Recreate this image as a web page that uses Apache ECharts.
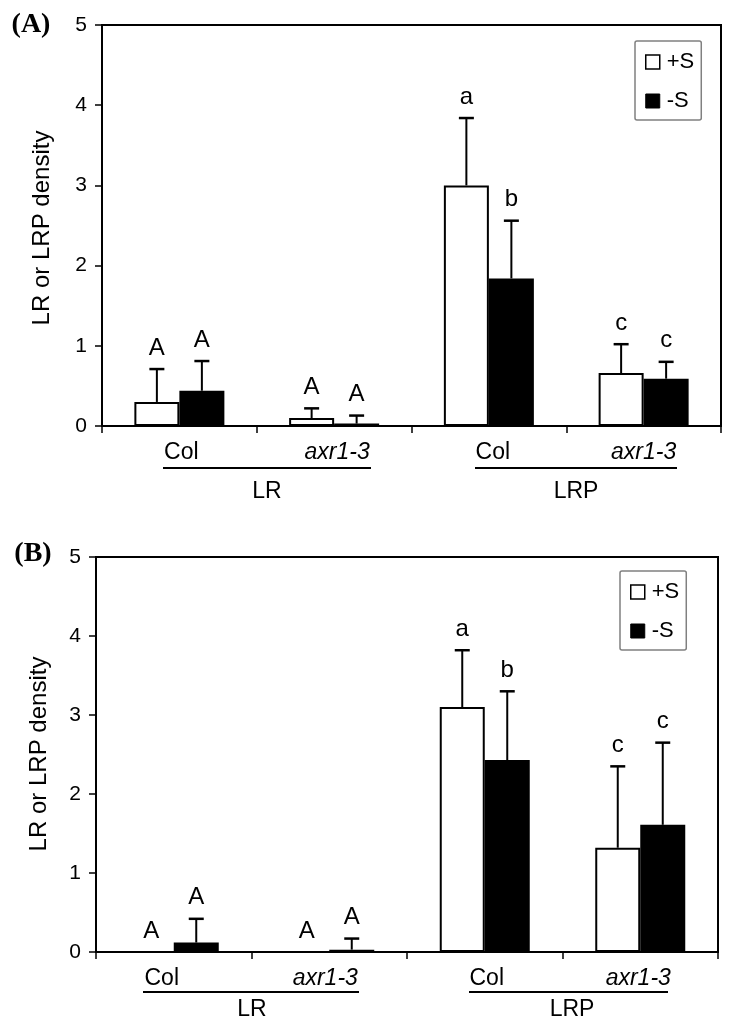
<!DOCTYPE html>
<html>
<head>
<meta charset="utf-8">
<script src="https://cdn.jsdelivr.net/npm/echarts@6/dist/echarts.min.js"></script>
<style>html,body{margin:0;padding:0;background:#fff;}#c{width:734px;height:1028px;}</style>
</head>
<body>
<div id="c"></div>
<script>
// ---- data ----
const categories = ['Col', 'axr1-3', 'Col', 'axr1-3'];
const groups = ['LR', 'LRP'];
const seriesNames = ['+S', '-S'];
const yTicks = [0, 1, 2, 3, 4, 5];

const A_plus = [0.30, 0.10, 3.00, 0.66];
const A_plusErr = [0.41, 0.12, 0.84, 0.36];
const A_minus = [0.44, 0.03, 1.84, 0.59];
const A_minusErr = [0.37, 0.10, 0.72, 0.21];

const B_plus = [0, 0, 3.10, 1.32];
const B_plusErr = [0, 0, 0.72, 1.03];
const B_minus = [0.12, 0.03, 2.43, 1.61];
const B_minusErr = [0.30, 0.14, 0.87, 1.04];

const letters_plus = ['A', 'A', 'a', 'c'];
const letters_minus = ['A', 'A', 'b', 'c'];

// ---- chart ----
const FONT = '"Liberation Sans", Arial, Helvetica, sans-serif';
const BW = 45;
const chart = echarts.init(document.getElementById('c'), null, {renderer: 'canvas'});

function barSeries(name, vals, idx, white) {
  return {
    name: name, type: 'bar', xAxisIndex: idx, yAxisIndex: idx,
    data: vals, barWidth: BW, barGap: '0%',
    itemStyle: {color: white ? '#ffffff' : '#000000', borderColor: '#000', borderWidth: 2},
    emphasis: {disabled: true}, silent: true, z: 2
  };
}
function errSeries(vals, errs, letters, idx, side) {
  return {
    type: 'custom', xAxisIndex: idx, yAxisIndex: idx, z: 5, silent: true,
    data: vals.map((v, i) => [i, v, errs[i]]),
    renderItem: function (params, api) {
      const i = api.value(0), v = api.value(1), e = api.value(2);
      const base = api.coord([i, v]);
      const top = api.coord([i, v + e]);
      const x = base[0] + side * BW / 2;
      const children = [];
      if (e > 0) {
        children.push({type: 'line', shape: {x1: x, y1: base[1], x2: x, y2: top[1]}, style: {stroke: '#000', lineWidth: 2}});
        children.push({type: 'line', shape: {x1: x - 7.5, y1: top[1], x2: x + 7.5, y2: top[1]}, style: {stroke: '#000', lineWidth: 2.5}});
      }
      children.push({type: 'text', x: x, y: top[1] - 9, style: {text: letters[params.dataIndex], fontSize: 24, fontFamily: FONT, fill: '#000', align: 'center', verticalAlign: 'bottom'}});
      return {type: 'group', children: children};
    }
  };
}
function xAxis(idx, shifts) {
  return {
    type: 'category', gridIndex: idx,
    data: categories.map((c, i) => ({value: c, textStyle: {padding: shifts[i]}})),
    axisLine: {lineStyle: {color: '#000', width: 2}},
    axisTick: {show: true, length: 7, lineStyle: {color: '#000', width: 1.5}},
    axisLabel: {
      color: '#000', fontSize: 23, fontFamily: FONT, margin: 15,
      formatter: v => v === 'Col' ? v : '{it|' + v + '}',
      rich: {it: {fontStyle: 'italic', fontSize: 23, fontFamily: FONT, color: '#000'}}
    }
  };
}
function yAxis(idx) {
  return {
    type: 'value', gridIndex: idx, min: yTicks[0], max: yTicks[yTicks.length - 1], interval: 1,
    axisLine: {show: true, lineStyle: {color: '#000', width: 2}},
    axisTick: {show: true, length: 7, lineStyle: {color: '#000', width: 1.5}},
    splitLine: {show: false},
    axisLabel: {color: '#000', fontSize: 21, fontFamily: FONT, margin: 15}
  };
}
function legend(left, top) {
  return {
    left: left, top: top, orient: 'vertical', icon: 'rect', itemWidth: 14, itemHeight: 14, itemGap: 17,
    padding: [10, 7, 8, 10], borderColor: '#808080', borderWidth: 1.5, borderRadius: 2,
    backgroundColor: '#fff',
    textStyle: {color: '#000', fontSize: 22, fontFamily: FONT, padding: [0, 0, 0, 2]},
    selectedMode: false,
    data: [
      {name: seriesNames[0], itemStyle: {color: '#fff', borderColor: '#000', borderWidth: 1.5}},
      {name: seriesNames[1], itemStyle: {color: '#000', borderColor: '#000', borderWidth: 1}}
    ]
  };
}
function line(x1, x2, y) {
  return {type: 'line', shape: {x1: x1, y1: y, x2: x2, y2: y}, style: {stroke: '#000', lineWidth: 2}, silent: true};
}
function txt(text, x, y, size, extra) {
  return Object.assign({type: 'text', x: x, y: y, silent: true,
    style: Object.assign({text: text, fontSize: size, fontFamily: FONT, fill: '#000', align: 'center', verticalAlign: 'middle'}, extra || {})});
}

const option = {
  animation: false,
  backgroundColor: '#fff',
  grid: [
    {left: 102, top: 25, width: 619, height: 401, show: true, borderColor: '#000', borderWidth: 2, backgroundColor: 'transparent'},
    {left: 96, top: 557, width: 622, height: 395, show: true, borderColor: '#000', borderWidth: 2, backgroundColor: 'transparent'}
  ],
  xAxis: [
    xAxis(0, [[0, 0, 0, 4], [0, 0, 0, 6], [0, 0, 0, 8], [0, 0, 0, 0]]),
    xAxis(1, [[0, 24, 0, 0], [0, 8, 0, 0], [0, 0, 0, 4], [0, 4, 0, 0]])
  ],
  yAxis: [yAxis(0), yAxis(1)],
  legend: [legend(635, 41), legend(620, 571)],
  series: [
    barSeries(seriesNames[0], A_plus, 0, true),
    barSeries(seriesNames[1], A_minus, 0, false),
    errSeries(A_plus, A_plusErr, letters_plus, 0, -1),
    errSeries(A_minus, A_minusErr, letters_minus, 0, 1),
    barSeries(seriesNames[0], B_plus, 1, true),
    barSeries(seriesNames[1], B_minus, 1, false),
    errSeries(B_plus, B_plusErr, letters_plus, 1, -1),
    errSeries(B_minus, B_minusErr, letters_minus, 1, 1)
  ],
  graphic: [
    txt('(A)', 31, 25, 28, {fontFamily: '"Liberation Serif", "Times New Roman", serif', fontWeight: 'bold'}),
    txt('(B)', 33, 554, 28, {fontFamily: '"Liberation Serif", "Times New Roman", serif', fontWeight: 'bold'}),
    Object.assign(txt('LR or LRP density', 42, 228, 24), {rotation: Math.PI / 2}),
    Object.assign(txt('LR or LRP density', 39, 754, 24), {rotation: Math.PI / 2}),
    line(163, 371, 468), line(475, 677, 468),
    txt(groups[0], 267, 492, 23), txt(groups[1], 576, 492, 23),
    line(143, 359, 992), line(469, 668, 992),
    txt(groups[0], 252, 1010, 23), txt(groups[1], 572, 1010, 23)
  ]
};
chart.setOption(option);
</script>
</body>
</html>
